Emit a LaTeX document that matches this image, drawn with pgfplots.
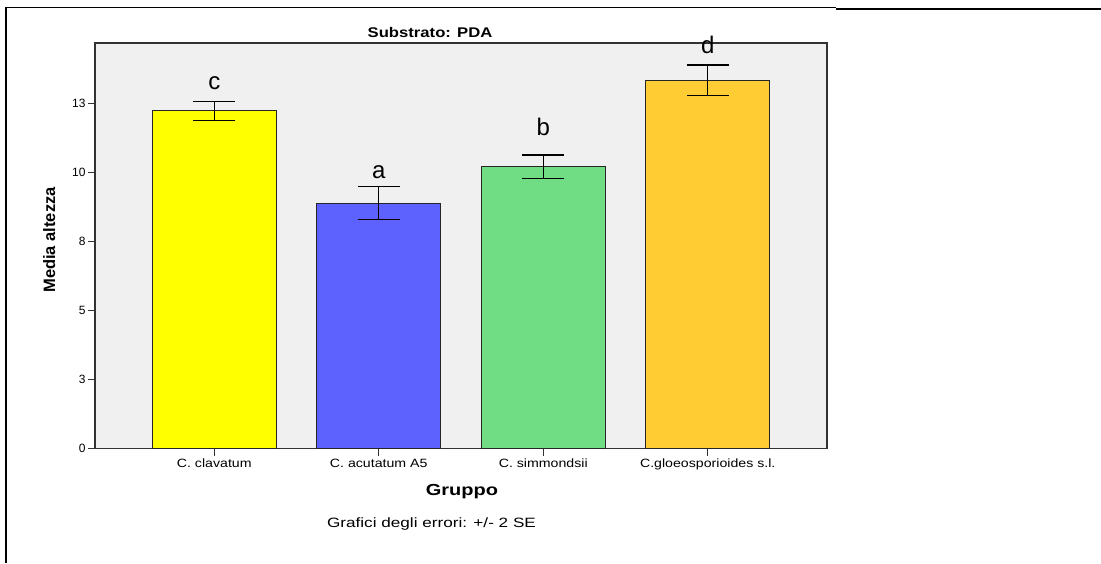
\documentclass[border=0pt]{standalone}
\usepackage{pgfplots}
\pgfplotsset{compat=1.18}
\usepackage{fontspec}
\setmainfont{Liberation Sans}
\definecolor{bg}{RGB}{240,240,240}
\definecolor{cyel}{RGB}{255,255,0}
\definecolor{cblu}{RGB}{93,98,255}
\definecolor{cgrn}{RGB}{112,221,133}
\definecolor{corg}{RGB}{255,204,51}
\definecolor{axc}{RGB}{50,50,50}
\newcommand{\xl}[1]{\scalebox{1.18}[1]{#1}}
\pgfplotsset{
  mybar/.style={ybar, bar width=0.753, bar shift=0pt, draw=black!85, line width=0.8pt,
    error bars/y dir=both, error bars/y explicit,
    error bars/error mark options={rotate=90, mark size=21pt, line width=1.2pt, draw=black},
    error bars/error bar style={line width=1.2pt, draw=black}},
}
\begin{document}
\begin{tikzpicture}[x=1pt,y=1pt]
\path[use as bounding box] (0,0) rectangle (1101,563);
\draw[line width=1pt] (5,555) -- (836,555);
\draw[line width=2pt] (836,554) -- (1101,554);
\draw[line width=2pt] (6,555.5) -- (6,0);
\begin{axis}[
  at={(95pt,114.5pt)}, anchor=south west,
  width=732pt, height=405.5pt, scale only axis,
  xmin=-0.725, xmax=3.725, ymin=0, ymax=14.7,
  axis background/.style={fill=bg},
  axis line style={draw=axc, line width=1.2pt},
  xtick={0,1,2,3},
  xticklabels={\xl{C. clavatum},\xl{C. acutatum A5},\xl{C. simmondsii},\xl{C.gloeosporioides s.l.}},
  ytick={0,2.5,5,7.5,10,12.5}, yticklabels={0,3,5,8,10,13},
  tick align=outside, xtick pos=bottom, ytick pos=left,
  major tick length=7pt,
  tick style={draw=axc, line width=1pt},
  xticklabel style={font=\fontsize{12}{14}\selectfont},
  yticklabel style={font=\fontsize{12}{14}\selectfont, xshift=1pt},
  clip=false,
]
\addplot[mybar, fill=cyel] coordinates {(0,12.24) +- (0,0.35)};
\addplot[mybar, fill=cblu] coordinates {(1,8.90) +- (0,0.60)};
\addplot[mybar, fill=cgrn] coordinates {(2,10.22) +- (0,0.42)};
\addplot[mybar, fill=corg] coordinates {(3,13.35) +- (0,0.55)};
\node[anchor=base, font=\fontsize{24}{28}\selectfont] at (axis cs:0,13.03) {c};
\node[anchor=base, font=\fontsize{24}{28}\selectfont] at (axis cs:1,9.78) {a};
\node[anchor=base, font=\fontsize{24}{28}\selectfont] at (axis cs:2,11.34) {b};
\node[anchor=base, font=\fontsize{24}{28}\selectfont] at (axis cs:3,14.31) {d};
\end{axis}
\node[anchor=base] at (430,525.7) {\fontsize{14}{16}\selectfont\bfseries\scalebox{1.19}[1]{Substrato: PDA}};
\node[anchor=base] at (462,68) {\fontsize{16}{18}\selectfont\bfseries\scalebox{1.25}[1]{Gruppo}};
\node[anchor=base] at (431.5,35.7) {\fontsize{13.5}{16}\selectfont\scalebox{1.27}[1]{Grafici degli errori: +/- 2 SE}};
\node[anchor=base, rotate=90] at (55,323) {\fontsize{16.5}{18}\selectfont\bfseries Media altezza};
\end{tikzpicture}
\end{document}
